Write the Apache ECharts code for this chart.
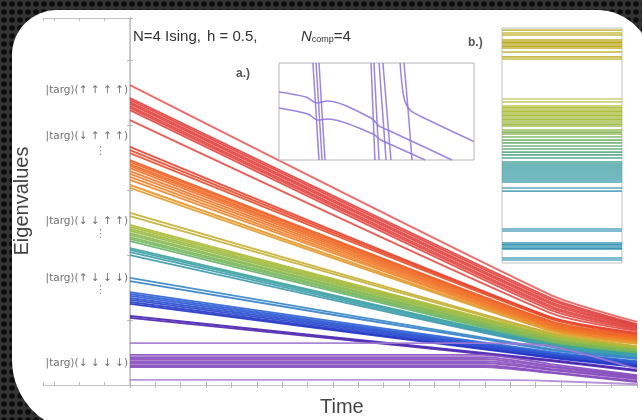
<!DOCTYPE html>
<html>
<head>
<meta charset="utf-8">
<script src="https://cdn.jsdelivr.net/npm/echarts@6/dist/echarts.min.js"></script>
<style>
  html, body { margin: 0; padding: 0; background: #1e1e1e; }
  #chart { width: 642px; height: 420px; }
</style>
</head>
<body>
<div id="chart"></div>
<script>
// ---- Main panel: eigenvalue trajectories vs. time ----
// Descending levels, sampled at three times (start, bend, end)
const descTimes = [0, 0.83, 1];
const descStart = [8.17, 7.82, 7.77, 7.71, 7.66, 7.60, 7.55, 7.49, 7.22, 6.49, 6.40, 6.32,
  6.13, 6.08, 6.02, 5.97, 5.91, 5.83, 5.75, 5.67, 5.59, 5.45, 5.37, 4.69, 4.60,
  4.36, 4.31, 4.25, 4.20, 4.14, 4.09, 4.03, 3.98, 3.92, 3.73, 3.68, 3.62, 3.54,
  2.92, 2.83, 2.53, 2.48, 2.43, 2.37, 2.32, 2.26, 2.21, 1.88, 1.83];
const descBend = [2.45, 2.37, 2.32, 2.26, 2.21, 2.15, 2.10, 2.04, 1.96, 1.85, 1.83, 1.80,
  1.74, 1.72, 1.69, 1.66, 1.63, 1.61, 1.58, 1.55, 1.53, 1.50, 1.47, 1.42, 1.39,
  1.36, 1.34, 1.31, 1.28, 1.25, 1.23, 1.20, 1.17, 1.14, 1.12, 1.09, 1.06, 1.04,
  0.98, 0.95, 0.90, 0.87, 0.84, 0.82, 0.79, 0.76, 0.74, 0.68, 0.65];
const descEnd = [1.72, 1.66, 1.63, 1.61, 1.58, 1.55, 1.53, 1.50, 1.47, 1.42, 1.39, 1.36,
  1.34, 1.31, 1.28, 1.28, 1.25, 1.23, 1.23, 1.20, 1.17, 1.14, 1.12, 1.06, 1.04,
  1.01, 1.01, 0.98, 0.95, 0.95, 0.93, 0.90, 0.90, 0.87, 0.84, 0.82, 0.79, 0.76,
  0.74, 0.71, 0.65, 0.63, 0.60, 0.57, 0.54, 0.52, 0.49, 0.41, 0.38];

// Nearly flat low-lying levels, sampled at four times
const flatTimes = [0, 0.7, 0.83, 1];
const flatStart = [1.14, 0.82, 0.76, 0.71, 0.65, 0.60, 0.54, 0.49, 0.14];
const flatBend  = [1.06, 0.57, 0.52, 0.49, 0.44, 0.41, 0.35, 0.33, 0.11];
const flatEnd   = [0.44, 0.27, 0.25, 0.22, 0.19, 0.16, 0.11, 0.08, 0.02];

// Target-state labels on the left column
const ketLabels = ['|targ⟩(↑ ↑ ↑ ↑)', '|targ⟩(↓ ↑ ↑ ↑)', '|targ⟩(↓ ↓ ↑ ↑)', '|targ⟩(↑ ↓ ↓ ↓)', '|targ⟩(↓ ↓ ↓ ↓)'];
const ketLevels = [8.04, 6.78, 4.47, 2.92, 0.60];
const ketDotLevels = [6.38, 4.11, 2.59];

// ---- Inset a.): avoided crossings (time, energy in inset units) ----
const insetACurves = [
  [[0, 7.01], [1.38, 6.49], [1.95, 5.88], [2.46, 6.08], [4.72, 4.33], [5.13, 3.51], [5.69, 2.99], [8.87, 0]],
  [[0, 5.36], [1.49, 4.74], [2.00, 4.12], [2.51, 4.23], [4.82, 2.68], [5.23, 2.06], [5.79, 1.55], [7.49, 0]],
  [[6.21, 10], [6.41, 6.39], [6.72, 5.15], [7.23, 4.54], [10, 1.9]],
  [[6.41, 10], [6.62, 5.15], [6.82, 0]],
  [[1.74, 10], [2.05, 0]],
  [[1.90, 10], [2.21, 0]],
  [[2.05, 10], [2.36, 0]],
  [[4.72, 10], [4.92, 0]],
  [[4.87, 10], [5.13, 0]],
  [[5.13, 10], [5.49, 0]],
  [[5.33, 10], [5.74, 0]]
];

// ---- Inset b.): static level spectrum ----
const insetBLevels = [99.1, 97.9, 97.0, 94.9, 94.0, 93.2, 92.3, 91.5, 89.8, 87.7, 86.8,
  69.8, 68.5, 66.8, 66.0, 65.1, 64.3, 63.4, 62.6, 61.7, 60.9, 60.0, 59.1, 58.3,
  56.6, 55.7, 54.9, 53.6, 52.3, 51.1, 49.8, 48.5, 47.2, 46.0, 44.7,
  43.0, 42.1, 41.3, 40.4, 39.6, 38.7, 37.9, 37.0, 36.2, 35.3, 34.5, 31.9, 30.6,
  14.5, 13.6, 8.5, 7.7, 6.8, 6.0, 2.1, 1.3];

// ---- Colour ramps (value -> colour, values descending) ----
const mainStops = [
  [8.2, '#e95e5a'], [7.8, '#df3f3c'], [7.2, '#e54f48'], [6.45, '#e5402b'], [6.1, '#ee6226'],
  [5.6, '#f08428'], [5.4, '#e29c2c'], [4.65, '#c6ae30'], [4.35, '#adbc36'], [3.95, '#6cb45e'],
  [3.7, '#36a0a4'], [3.55, '#3a99ae'], [2.9, '#3585c8'], [2.5, '#2c60d6'], [2.2, '#2030c4'],
  [1.85, '#4a20ae'], [1.2, '#a481d4'], [0.85, '#8a4ec0'], [0.5, '#8448bc'], [0.14, '#b08ad4']
];
const insetBStops = [
  [100, '#ccc250'], [94, '#b8a514'], [88, '#c2b63c'], [70, '#c6cf6c'], [65, '#abbc2e'],
  [58, '#98b848'], [52, '#78b474'], [45, '#50a88c'], [41, '#32999c'], [35, '#3c9eaa'],
  [30, '#58a8be'], [14, '#52a2bc'], [7, '#288eb0'], [1, '#56a6c4']
];

function hexToRgb(h) {
  const n = parseInt(h.slice(1), 16);
  return [(n >> 16) & 255, (n >> 8) & 255, n & 255];
}
function rampColor(stops, v) {
  if (v >= stops[0][0]) return stops[0][1];
  for (let i = 1; i < stops.length; i++) {
    if (v >= stops[i][0]) {
      const [v0, c0] = stops[i - 1];
      const [v1, c1] = stops[i];
      const f = (v0 - v) / (v0 - v1);
      const a = hexToRgb(c0), b = hexToRgb(c1);
      return 'rgb(' + a.map((x, k) => Math.round(x + (b[k] - x) * f)).join(',') + ')';
    }
  }
  return stops[stops.length - 1][1];
}

// Perforated dark backdrop
const tile = document.createElement('canvas');
tile.width = 8; tile.height = 8;
const g = tile.getContext('2d');
g.fillStyle = '#333333'; g.fillRect(0, 0, 8, 8);
g.fillStyle = '#0d0d0d'; g.beginPath(); g.arc(4, 4, 2.8, 0, Math.PI * 2); g.fill();

const frameColor = '#c3c3c3';
const tickColor = '#b8b8b8';

function frameAxis(extra) {
  return Object.assign({
    type: 'value',
    axisLine: { show: true, lineStyle: { color: frameColor, width: 1 } },
    axisTick: { show: true, inside: true, length: 3, lineStyle: { color: tickColor } },
    axisLabel: { show: false },
    splitLine: { show: false }
  }, extra);
}
function hiddenAxis(extra) {
  return Object.assign({
    type: 'value', show: false,
    axisLine: { show: false }, axisTick: { show: false }, axisLabel: { show: false }, splitLine: { show: false }
  }, extra);
}

const series = [];

descStart.forEach((s, i) => {
  const vals = [s, descBend[i], descEnd[i]];
  series.push({
    type: 'line', xAxisIndex: 2, yAxisIndex: 1, silent: true, symbol: 'none', smooth: 0.2,
    data: descTimes.map((t, k) => [t, vals[k]]),
    lineStyle: { width: 1.9, color: rampColor(mainStops, s), opacity: 0.9 }, z: 3
  });
});
flatStart.forEach((s, i) => {
  const vals = [s, s, flatBend[i], flatEnd[i]];
  series.push({
    type: 'line', xAxisIndex: 2, yAxisIndex: 1, silent: true, symbol: 'none', smooth: 0.2,
    data: flatTimes.map((t, k) => [t, vals[k]]),
    lineStyle: { width: 1.9, color: rampColor(mainStops, s), opacity: 0.9 }, z: 3
  });
});

// target labels
series.push({
  type: 'scatter', xAxisIndex: 0, yAxisIndex: 0, silent: true, symbolSize: 0,
  data: ketLevels.map(v => [0, v]),
  label: {
    show: true, position: 'left', distance: 2,
    formatter: p => ketLabels[p.dataIndex],
    fontFamily: "'DejaVu Sans', sans-serif", fontSize: 10.5, color: '#4a4a4a'
  }
});
series.push({
  type: 'scatter', xAxisIndex: 0, yAxisIndex: 0, silent: true, symbolSize: 0,
  data: ketDotLevels.map(v => [0.058, v]),
  label: { show: true, position: 'inside', formatter: '⋮', fontFamily: "'DejaVu Sans', sans-serif", fontSize: 11, color: '#666' }
});

// inset a
insetACurves.forEach(c => {
  series.push({
    type: 'line', xAxisIndex: 4, yAxisIndex: 3, silent: true, symbol: 'none', smooth: 0.3,
    data: c, lineStyle: { width: 1.5, color: '#9178dc', opacity: 0.9 }, z: 5
  });
});

// inset b
insetBLevels.forEach(v => {
  series.push({
    type: 'line', xAxisIndex: 5, yAxisIndex: 4, silent: true, symbol: 'none',
    data: [[0, v], [1, v]], lineStyle: { width: 1.6, color: rampColor(insetBStops, v), opacity: 0.95 }, z: 5
  });
});

const titleFont = "15px 'Liberation Sans', Arial";

const option = {
  animation: false,
  backgroundColor: { image: tile, repeat: 'repeat' },
  graphic: [
    { type: 'rect', z: -10, silent: true, shape: { x: 12, y: 10, width: 640, height: 422, r: [45, 55, 0, 72] }, style: { fill: '#ffffff' } },
    { type: 'text', left: 133, top: 29, silent: true, style: { text: 'N=4 Ising,', font: titleFont, fill: '#333' } },
    { type: 'text', left: 207, top: 29, silent: true, style: { text: 'h = 0.5,', font: titleFont, fill: '#333' } },
    { type: 'text', left: 301, top: 29, silent: true, style: {
        text: '{i|N}{s|comp}{n|=4}',
        rich: {
          i: { font: "italic 15px 'Liberation Sans', Arial", fill: '#333' },
          s: { font: "9px 'Liberation Sans', Arial", fill: '#333', padding: [7, 0, 0, 0] },
          n: { font: titleFont, fill: '#333' }
        } } },
    { type: 'text', left: 236, top: 68, silent: true, style: { text: 'a.)', font: "bold 12px 'Liberation Sans', Arial", fill: '#555' } },
    { type: 'text', left: 468, top: 37, silent: true, style: { text: 'b.)', font: "bold 12px 'Liberation Sans', Arial", fill: '#555' } },
    { type: 'text', left: 320, top: 397, silent: true, style: { text: 'Time', font: "20px 'Liberation Sans', Arial", fill: '#444' } },
    { type: 'text', x: 22, y: 201, rotation: Math.PI / 2, silent: true,
      style: { text: 'Eigenvalues', font: "20px 'Liberation Sans', Arial", fill: '#444', align: 'center', verticalAlign: 'middle' } }
  ],
  grid: [
    { left: 43, top: 18, width: 87, height: 367 },
    { left: 130, top: 18, width: 507, height: 367 },
    { left: 279, top: 63, width: 195, height: 97, show: true, borderColor: '#b5b5b5', borderWidth: 1, backgroundColor: '#fff', z: 4 },
    { left: 502, top: 28, width: 120, height: 235, show: true, borderColor: '#c0c0c0', borderWidth: 1, backgroundColor: '#fff', z: 4 }
  ],
  xAxis: [
    frameAxis({ gridIndex: 0, position: 'bottom', inverse: true, min: 0, max: 0.1716, interval: 0.05 }),
    frameAxis({ gridIndex: 0, position: 'top', inverse: true, min: 0, max: 0.1716, interval: 0.05 }),
    frameAxis({ gridIndex: 1, position: 'bottom', min: 0, max: 1, interval: 0.05 }),
    frameAxis({ gridIndex: 1, position: 'top', min: 0, max: 1, interval: 0.05 }),
    hiddenAxis({ gridIndex: 2, min: 0, max: 10 }),
    hiddenAxis({ gridIndex: 3, min: 0, max: 1 })
  ],
  yAxis: [
    frameAxis({ gridIndex: 0, position: 'left', min: 0, max: 10, interval: 1.77 }),
    frameAxis({ gridIndex: 1, position: 'left', min: 0, max: 10, axisTick: { show: false }, axisLine: { show: true, lineStyle: { color: '#bdbdbd', width: 1.5 } } }),
    frameAxis({ gridIndex: 1, position: 'right', min: 0, max: 10, interval: 1.77 }),
    hiddenAxis({ gridIndex: 2, min: 0, max: 10 }),
    hiddenAxis({ gridIndex: 3, min: 0, max: 100 })
  ],
  series: series
};

const chart = echarts.init(document.getElementById('chart'));
chart.setOption(option);
</script>
</body>
</html>
